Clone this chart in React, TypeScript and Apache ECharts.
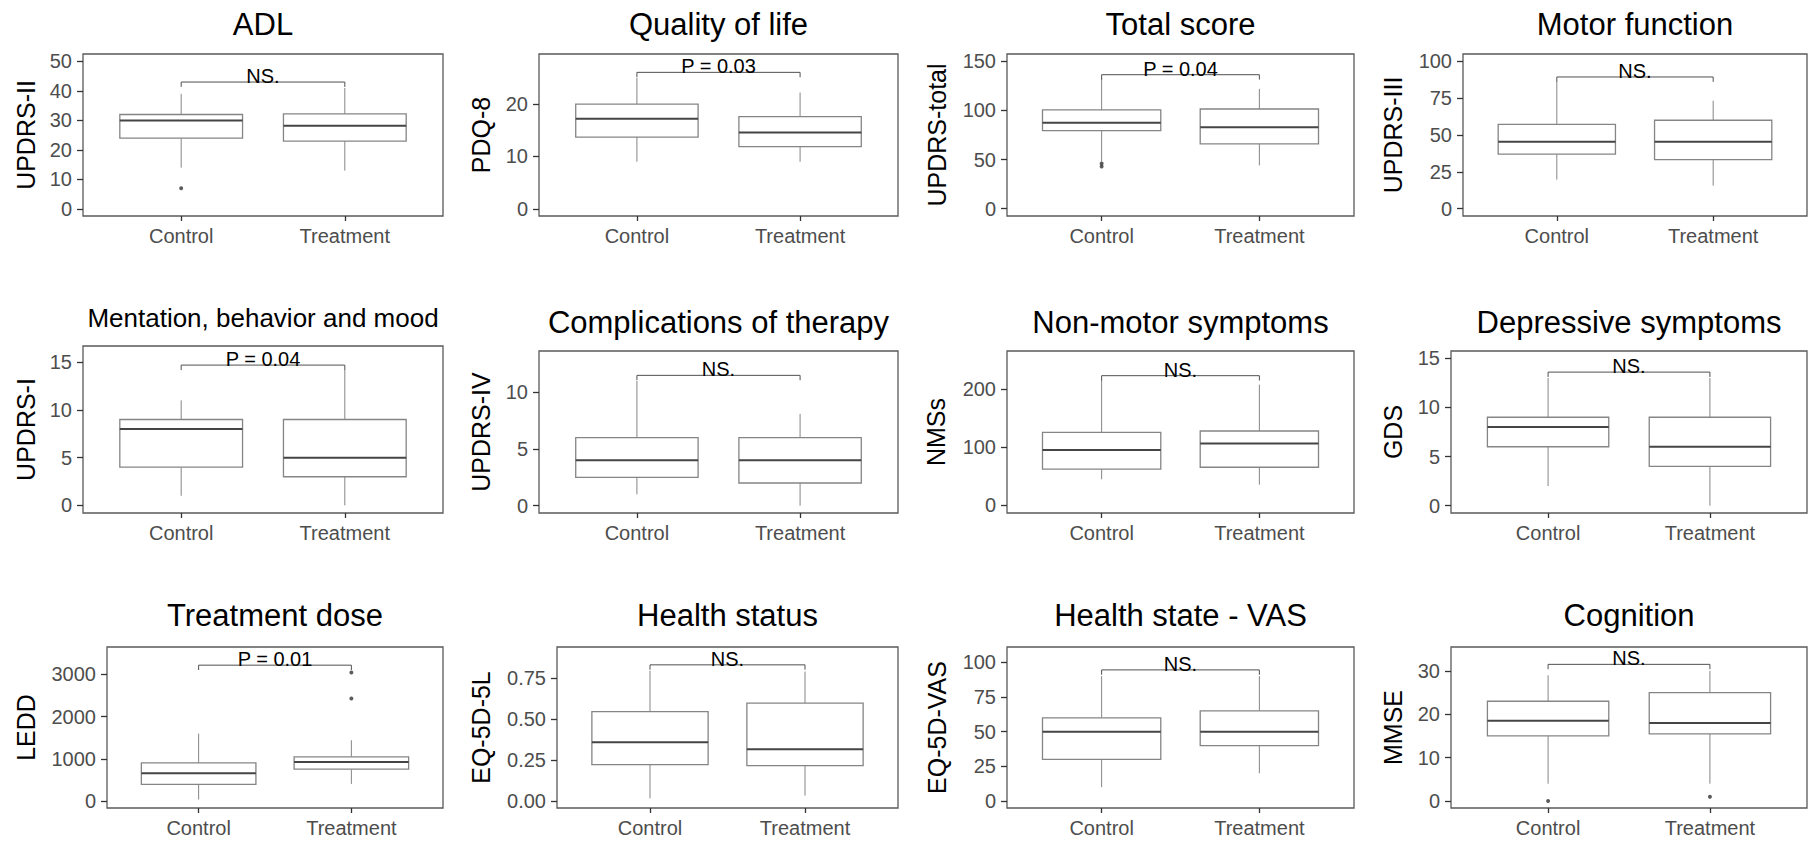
import React, { useEffect, useRef } from 'react';
import * as echarts from 'echarts';

const categories = ['Control', 'Treatment'];
const panelTitles = [
  'ADL', 'Quality of life', 'Total score', 'Motor function',
  'Mentation, behavior and mood', 'Complications of therapy', 'Non-motor symptoms', 'Depressive symptoms',
  'Treatment dose', 'Health status', 'Health state - VAS', 'Cognition',
];
const yAxisNames = [
  'UPDRS-II', 'PDQ-8', 'UPDRS-total', 'UPDRS-III',
  'UPDRS-I', 'UPDRS-IV', 'NMSs', 'GDS',
  'LEDD', 'EQ-5D-5L', 'EQ-5D-VAS', 'MMSE',
];
// [lower whisker, Q1, median, Q3, upper whisker]
const controlStats = [
  [14, 24, 30, 32, 39],
  [9, 13.7, 17.2, 20, 25],
  [48, 79.5, 87.5, 100.5, 133],
  [19.7, 37, 45.5, 57.2, 86.4],
  [1, 4, 8, 9, 11],
  [1, 2.5, 4, 6, 11],
  [44.5, 62, 95, 125.5, 216],
  [2, 6, 8, 9, 13],
  [40, 400, 663, 908, 1600],
  [0.016, 0.222, 0.359, 0.546, 0.795],
  [10, 30, 50, 60, 90],
  [4, 15, 18.5, 23, 29],
];
const treatmentStats = [
  [13, 23, 28.2, 32.2, 41],
  [9, 11.9, 14.6, 17.6, 22.2],
  [44, 66, 83, 101.5, 122],
  [15.6, 33.3, 45.5, 60, 73.3],
  [0, 3, 5, 9, 14.2],
  [0, 2, 4, 6, 8.1],
  [35.3, 65.3, 106.4, 127.7, 207.5],
  [0, 4, 6, 9, 13],
  [410, 758, 931, 1050, 1444],
  [0.033, 0.216, 0.316, 0.597, 0.79],
  [20, 40, 50, 65, 90],
  [4, 15.5, 18, 25, 30],
];
const controlOutliers = [[7], [], [46, 43], [], [], [], [], [], [], [], [], [0]];
const treatmentOutliers = [[], [], [], [], [], [], [], [], [3047, 2431], [], [], [1]];
const bracketLevels = [43, 26.05, 136.4, 89.4, 14.7, 11.5, 223, 13.6, 3220, 0.831, 94.5, 31.5];
const bracketLabels = ['NS.', 'P = 0.03', 'P = 0.04', 'NS.', 'P = 0.04', 'NS.', 'NS.', 'NS.', 'P = 0.01', 'NS.', 'NS.', 'NS.'];
const yTickValues = [
  [0, 10, 20, 30, 40, 50],
  [0, 10, 20],
  [0, 50, 100, 150],
  [0, 25, 50, 75, 100],
  [0, 5, 10, 15],
  [0, 5, 10],
  [0, 100, 200],
  [0, 5, 10, 15],
  [0, 1000, 2000, 3000],
  [0, 0.25, 0.5, 0.75],
  [0, 25, 50, 75, 100],
  [0, 10, 20, 30],
];
const yLimits = [
  [-2.4, 52.5], [-1.35, 29.55], [-7.5, 157.5], [-5, 105],
  [-0.8, 16.7], [-0.65, 13.65], [-13.5, 265.5], [-0.75, 15.75],
  [-160, 3650], [-0.043, 0.94], [-5, 111], [-1.6, 35.5],
];

// layout (pixels): [left, top, right, bottom] of each plot panel
const panelBoxes = [
  [83, 54, 443, 216], [539, 54, 898, 216], [1007, 54, 1354, 216], [1463, 54, 1807, 216],
  [83, 346, 443, 513], [539, 351, 898, 513], [1007, 351, 1354, 513], [1451, 351, 1807, 513],
  [107, 647, 443, 808], [557, 647, 898, 808], [1007, 647, 1354, 808], [1451, 647, 1807, 808],
];
const titleY = [24, 24, 24, 24, 318, 322, 322, 322, 615, 615, 615, 615];
const titleSize = [31, 31, 31, 31, 26, 31, 31, 31, 31, 31, 31, 31];
const yNameX = [26, 481, 937, 1393, 26, 481, 936, 1393, 26, 481, 937, 1393];

const FONT = "'Liberation Sans', Arial, Helvetica, sans-serif";
const EDGE = '#858585';
const MEDIAN = '#454545';

function boxRender(params: any, api: any) {
  const x = api.value(0);
  const lo = api.value(1), q1 = api.value(2), med = api.value(3), q3 = api.value(4), hi = api.value(5);
  const half = api.size([0.75, 0])[0] / 2;
  const pLo = api.coord([x, lo]);
  const pQ1 = api.coord([x, q1]);
  const pMed = api.coord([x, med]);
  const pQ3 = api.coord([x, q3]);
  const pHi = api.coord([x, hi]);
  const cx = pMed[0];
  return {
    type: 'group',
    children: [
      { type: 'line', shape: { x1: cx, y1: pHi[1], x2: cx, y2: pQ3[1] }, style: { stroke: EDGE, lineWidth: 1 } },
      { type: 'line', shape: { x1: cx, y1: pQ1[1], x2: cx, y2: pLo[1] }, style: { stroke: EDGE, lineWidth: 1 } },
      {
        type: 'rect',
        shape: { x: cx - half, y: pQ3[1], width: 2 * half, height: pQ1[1] - pQ3[1] },
        style: { fill: '#ffffff', stroke: EDGE, lineWidth: 1.3 },
      },
      { type: 'line', shape: { x1: cx - half, y1: pMed[1], x2: cx + half, y2: pMed[1] }, style: { stroke: MEDIAN, lineWidth: 2 } },
    ],
  };
}

function makeBracketRender(label: string) {
  return (params: any, api: any) => {
    const x1 = api.value(0), x2 = api.value(1), lvl = api.value(2), leg = api.value(3);
    const a = api.coord([x1, leg]);
    const b = api.coord([x1, lvl]);
    const c = api.coord([x2, lvl]);
    const d = api.coord([x2, leg]);
    return {
      type: 'group',
      children: [
        { type: 'polyline', shape: { points: [a, b, c, d] }, style: { stroke: '#505050', lineWidth: 1, fill: 'none' } },
        {
          type: 'text',
          x: (b[0] + c[0]) / 2,
          y: b[1] + 4,
          style: {
            text: label, fontSize: 20, fontFamily: FONT, fill: '#000000',
            align: 'center', verticalAlign: 'bottom',
          },
        },
      ],
    };
  };
}

function buildOption() {
  const grids: any[] = [];
  const xAxes: any[] = [];
  const yAxes: any[] = [];
  const series: any[] = [];
  const graphics: any[] = [];

  panelBoxes.forEach(([L, T, R, B], i) => {
    grids.push({
      left: L, top: T, width: R - L, height: B - T,
      show: true, borderColor: '#595959', borderWidth: 1.3, backgroundColor: 'transparent',
      containLabel: false, outerBoundsMode: 'none',
    });
    xAxes.push({
      gridIndex: i, type: 'value', min: 0.4, max: 2.6,
      splitLine: { show: false },
      axisLine: { show: false, onZero: false },
      axisTick: { show: true, length: 5, customValues: [1, 2], lineStyle: { color: '#333333', width: 1.3 } },
      axisLabel: {
        customValues: [1, 2],
        formatter: (v: number) => categories[Math.round(v) - 1] ?? '',
        color: '#4d4d4d', fontSize: 20, fontFamily: FONT, margin: 10,
      },
    });
    const [ymin, ymax] = yLimits[i];
    yAxes.push({
      gridIndex: i, type: 'value', min: ymin, max: ymax,
      splitLine: { show: false },
      axisLine: { show: false, onZero: false },
      axisTick: { show: true, length: 6, customValues: yTickValues[i], lineStyle: { color: '#333333', width: 1.3 } },
      axisLabel: {
        customValues: yTickValues[i],
        formatter: (v: number) => (i === 9 ? v.toFixed(2) : String(v)),
        color: '#4d4d4d', fontSize: 20, fontFamily: FONT, margin: 11,
      },
    });
    series.push({
      type: 'custom', xAxisIndex: i, yAxisIndex: i, silent: true, z: 2,
      data: [[1, ...controlStats[i]], [2, ...treatmentStats[i]]],
      renderItem: boxRender,
    });
    const outs = [
      ...controlOutliers[i].map((v) => [1, v]),
      ...treatmentOutliers[i].map((v) => [2, v]),
    ];
    if (outs.length) {
      series.push({
        type: 'scatter', xAxisIndex: i, yAxisIndex: i, silent: true, z: 3,
        data: outs, symbol: 'circle', symbolSize: 4, itemStyle: { color: '#333333' },
      });
    }
    const tip = 0.03 * (ymax - ymin);
    series.push({
      type: 'custom', xAxisIndex: i, yAxisIndex: i, silent: true, z: 4,
      data: [[1, 2, bracketLevels[i], bracketLevels[i] - tip]],
      renderItem: makeBracketRender(bracketLabels[i]),
    });

    graphics.push({
      type: 'text', x: (L + R) / 2, y: titleY[i], silent: true,
      style: {
        text: panelTitles[i], fontSize: titleSize[i], fontFamily: FONT, fill: '#000000',
        align: 'center', verticalAlign: 'middle', textAlign: 'center', textVerticalAlign: 'middle',
      },
    });
    graphics.push({
      type: 'text', x: yNameX[i], y: (T + B) / 2, rotation: Math.PI / 2, silent: true,
      style: {
        text: yAxisNames[i], fontSize: 25, fontFamily: FONT, fill: '#000000',
        align: 'center', verticalAlign: 'middle', textAlign: 'center', textVerticalAlign: 'middle',
      },
    });
  });

  return {
    animation: false,
    backgroundColor: '#ffffff',
    grid: grids,
    xAxis: xAxes,
    yAxis: yAxes,
    series,
    graphic: { elements: graphics },
  };
}

export default function App() {
  const ref = useRef<HTMLDivElement>(null);
  useEffect(() => {
    document.body.style.margin = '0';
    const chart = echarts.init(ref.current as HTMLDivElement, undefined, { renderer: 'svg' });
    chart.setOption(buildOption() as any);
    return () => {
      chart.dispose();
    };
  }, []);
  return <div ref={ref} style={{ width: 1809, height: 841, overflow: 'hidden' }} />;
}
